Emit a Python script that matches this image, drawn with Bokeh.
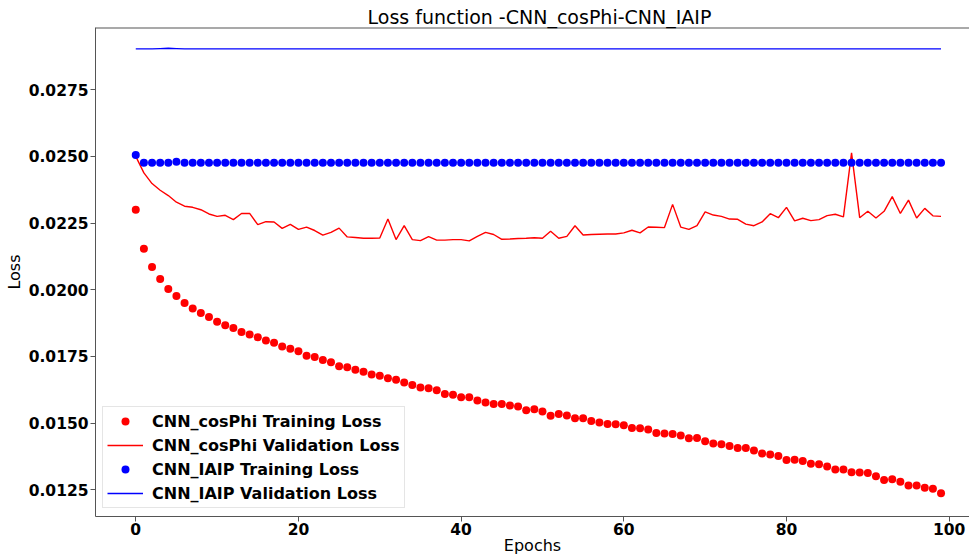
from bokeh.plotting import figure
from bokeh.models import Range1d, FixedTicker, PrintfTickFormatter, Span, Legend, LegendItem, Title
from bokeh.embed import file_html
from bokeh.resources import INLINE

epochs = list(range(100))

cosphi_train = [
    0.02300, 0.02154, 0.02085, 0.02040, 0.02003, 0.01977, 0.01950, 0.01930, 0.01913, 0.01898,
    0.01880, 0.01867, 0.01857, 0.01842, 0.01832, 0.01822, 0.01810, 0.01801, 0.01787, 0.01779,
    0.01769, 0.01753, 0.01748, 0.01737, 0.01728, 0.01713, 0.01709, 0.01700, 0.01693, 0.01682,
    0.01678, 0.01668, 0.01663, 0.01652, 0.01643, 0.01634, 0.01631, 0.01623, 0.01609, 0.01606,
    0.01597, 0.01597, 0.01585, 0.01577, 0.01572, 0.01572, 0.01566, 0.01562, 0.01548, 0.01552,
    0.01544, 0.01528, 0.01534, 0.01529, 0.01518, 0.01518, 0.01508, 0.01502, 0.01497, 0.01496,
    0.01492, 0.01482, 0.01481, 0.01476, 0.01463, 0.01461, 0.01459, 0.01454, 0.01443, 0.01444,
    0.01432, 0.01424, 0.01421, 0.01414, 0.01407, 0.01407, 0.01397, 0.01386, 0.01382, 0.01377,
    0.01362, 0.01363, 0.01358, 0.01348, 0.01346, 0.01337, 0.01326, 0.01326, 0.01316, 0.01315,
    0.01313, 0.01301, 0.01287, 0.01290, 0.01280, 0.01266, 0.01266, 0.01258, 0.01254, 0.01237,
]

cosphi_val = [
    0.02500, 0.02438, 0.02398, 0.02373, 0.02353, 0.02328, 0.02313, 0.02309, 0.02300, 0.02284,
    0.02275, 0.02279, 0.02263, 0.02286, 0.02286, 0.02244, 0.02255, 0.02254, 0.02230, 0.02245,
    0.02226, 0.02235, 0.02222, 0.02205, 0.02215, 0.02231, 0.02198, 0.02196, 0.02193, 0.02193,
    0.02194, 0.02265, 0.02188, 0.02240, 0.02188, 0.02184, 0.02199, 0.02186, 0.02186, 0.02188,
    0.02188, 0.02183, 0.02200, 0.02215, 0.02207, 0.02189, 0.02190, 0.02192, 0.02193, 0.02195,
    0.02193, 0.02219, 0.02193, 0.02200, 0.02240, 0.02205, 0.02207, 0.02208, 0.02209, 0.02209,
    0.02213, 0.02223, 0.02213, 0.02235, 0.02234, 0.02233, 0.02320, 0.02235, 0.02226, 0.02240,
    0.02292, 0.02280, 0.02275, 0.02265, 0.02264, 0.02246, 0.02240, 0.02254, 0.02285, 0.02270,
    0.02309, 0.02258, 0.02268, 0.02259, 0.02263, 0.02278, 0.02283, 0.02273, 0.02513, 0.02270,
    0.02294, 0.02269, 0.02294, 0.02349, 0.02286, 0.02336, 0.02269, 0.02305, 0.02277, 0.02275,
]

iaip_train = [
    0.02505, 0.02476, 0.02476, 0.02476, 0.02476, 0.02480, 0.02476, 0.02476, 0.02476, 0.02476,
    0.02476, 0.02476, 0.02476, 0.02476, 0.02476, 0.02476, 0.02476, 0.02476, 0.02476, 0.02476,
    0.02476, 0.02476, 0.02476, 0.02476, 0.02476, 0.02476, 0.02476, 0.02476, 0.02476, 0.02476,
    0.02476, 0.02476, 0.02476, 0.02476, 0.02476, 0.02476, 0.02476, 0.02476, 0.02476, 0.02476,
    0.02476, 0.02476, 0.02476, 0.02476, 0.02476, 0.02476, 0.02476, 0.02476, 0.02476, 0.02476,
    0.02476, 0.02476, 0.02476, 0.02476, 0.02476, 0.02476, 0.02476, 0.02476, 0.02476, 0.02476,
    0.02476, 0.02476, 0.02476, 0.02476, 0.02476, 0.02476, 0.02476, 0.02476, 0.02476, 0.02476,
    0.02476, 0.02476, 0.02476, 0.02476, 0.02476, 0.02476, 0.02476, 0.02476, 0.02476, 0.02476,
    0.02476, 0.02476, 0.02476, 0.02476, 0.02476, 0.02476, 0.02476, 0.02476, 0.02476, 0.02476,
    0.02476, 0.02476, 0.02476, 0.02476, 0.02476, 0.02476, 0.02476, 0.02476, 0.02476, 0.02476,
]

iaip_val = [
    0.02903, 0.02903, 0.02903, 0.02904, 0.02905, 0.02904, 0.02903, 0.02903, 0.02903, 0.02903,
    0.02903, 0.02903, 0.02903, 0.02903, 0.02903, 0.02903, 0.02903, 0.02903, 0.02903, 0.02903,
    0.02903, 0.02903, 0.02903, 0.02903, 0.02903, 0.02903, 0.02903, 0.02903, 0.02903, 0.02903,
    0.02903, 0.02903, 0.02903, 0.02903, 0.02903, 0.02903, 0.02903, 0.02903, 0.02903, 0.02903,
    0.02903, 0.02903, 0.02903, 0.02903, 0.02903, 0.02903, 0.02903, 0.02903, 0.02903, 0.02903,
    0.02903, 0.02903, 0.02903, 0.02903, 0.02903, 0.02903, 0.02903, 0.02903, 0.02903, 0.02903,
    0.02903, 0.02903, 0.02903, 0.02903, 0.02903, 0.02903, 0.02903, 0.02903, 0.02903, 0.02903,
    0.02903, 0.02903, 0.02903, 0.02903, 0.02903, 0.02903, 0.02903, 0.02903, 0.02903, 0.02903,
    0.02903, 0.02903, 0.02903, 0.02903, 0.02903, 0.02903, 0.02903, 0.02903, 0.02903, 0.02903,
    0.02903, 0.02903, 0.02903, 0.02903, 0.02903, 0.02903, 0.02903, 0.02903, 0.02903, 0.02903,
]

x_ticks = [0, 20, 40, 60, 80, 100]
y_ticks = [0.0125, 0.0150, 0.0175, 0.0200, 0.0225, 0.0250, 0.0275]

title_text = "Loss function -CNN_cosPhi-CNN_IAIP"
x_label = "Epochs"
y_label = "Loss"
series_labels = [
    "CNN_cosPhi Training Loss",
    "CNN_cosPhi Validation Loss",
    "CNN_IAIP Training Loss",
    "CNN_IAIP Validation Loss",
]

FONT = "DejaVu Sans"
SPINE = "#555555"
Y_START, Y_END = 0.01150, 0.02983

p = figure(width=969, height=558, output_backend="svg", toolbar_location=None,
           x_range=Range1d(-4.95, 102.5), y_range=Range1d(Y_START, Y_END),
           min_border_left=95, min_border_right=0, min_border_top=27, min_border_bottom=42)
p.title = Title(text=title_text, align="left", offset=272, standoff=0,
                text_font=FONT, text_font_size="19px", text_font_style="normal",
                text_color="black")
p.xgrid.visible = False
p.ygrid.visible = False
p.outline_line_color = None
p.background_fill_color = "white"
p.border_fill_color = "white"

for ax in (p.xaxis[0], p.yaxis[0]):
    ax.axis_line_color = SPINE
    ax.axis_line_width = 1
    ax.major_tick_line_color = SPINE
    ax.major_tick_out = 5
    ax.major_tick_in = 0
    ax.minor_tick_line_color = None
    ax.major_label_text_font = FONT
    ax.major_label_text_font_style = "bold"
    ax.major_label_text_font_size = "15.5px"
    ax.major_label_text_color = "black"
    ax.axis_label_text_font = FONT
    ax.axis_label_text_font_style = "normal"
    ax.axis_label_text_font_size = "16px"
    ax.axis_label_text_color = "black"

p.xaxis[0].ticker = FixedTicker(ticks=x_ticks)
p.yaxis[0].ticker = FixedTicker(ticks=y_ticks)
p.yaxis[0].formatter = PrintfTickFormatter(format="%.4f")
p.xaxis[0].major_label_standoff = 1
p.yaxis[0].major_label_standoff = 2
p.xaxis[0].axis_label = x_label
p.yaxis[0].axis_label = y_label
p.xaxis[0].axis_label_standoff = -2
p.yaxis[0].axis_label_standoff = 2

top_spine = Span(location=Y_END, dimension="width", line_color=SPINE, line_width=2)
p.add_layout(top_spine)

r1 = p.scatter(epochs, cosphi_train, size=8, color="#ff0000", line_color=None)
r2 = p.line(epochs, cosphi_val, line_width=1.4, color="#ff0000")
r3 = p.scatter(epochs, iaip_train, size=8, color="#0000ff", line_color=None)
r4 = p.line(epochs, iaip_val, line_width=1.4, color="#0000ff")

legend = Legend(items=[LegendItem(label=series_labels[0], renderers=[r1]),
                       LegendItem(label=series_labels[1], renderers=[r2]),
                       LegendItem(label=series_labels[2], renderers=[r3]),
                       LegendItem(label=series_labels[3], renderers=[r4])],
                location=(7, 8), margin=0, padding=4, spacing=4,
                glyph_width=36, glyph_height=20, label_height=20, label_standoff=9,
                label_text_font=FONT, label_text_font_style="bold", label_text_font_size="16px",
                label_text_color="black",
                border_line_color="#cccccc", border_line_width=1,
                background_fill_color="white", background_fill_alpha=0.8)
p.add_layout(legend)

open("out.html", "w").write(file_html(p, INLINE))
